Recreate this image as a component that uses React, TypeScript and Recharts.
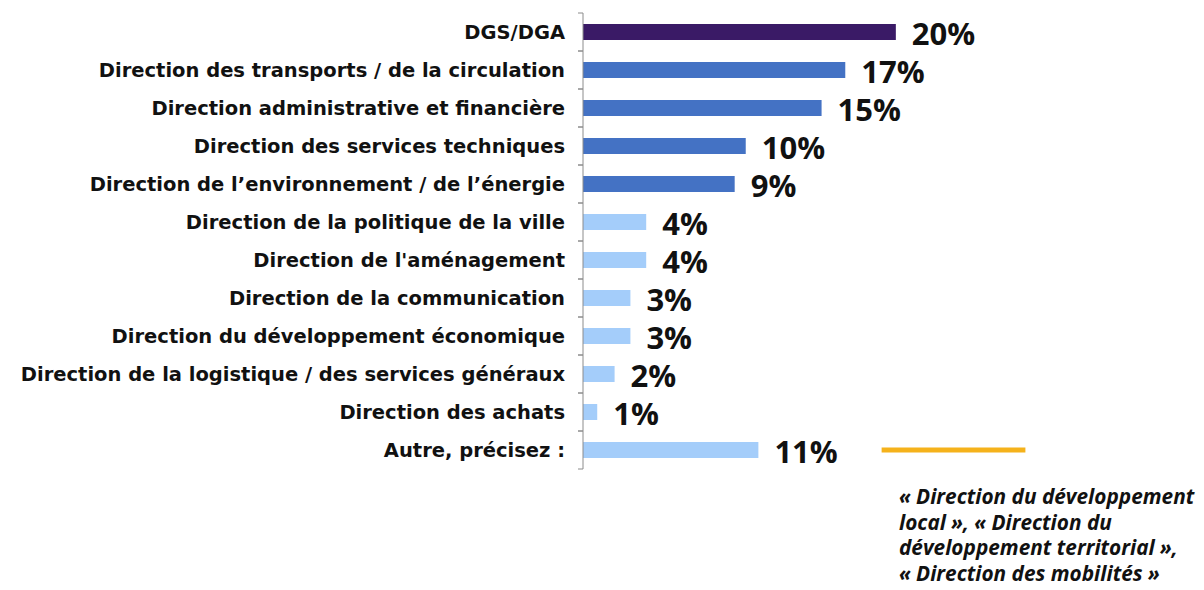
import React from 'react';
import { BarChart, Bar, XAxis, YAxis, Cell, LabelList, ReferenceLine } from 'recharts';

const categories = [
  'DGS/DGA',
  'Direction des transports / de la circulation',
  'Direction administrative et financière',
  'Direction des services techniques',
  'Direction de l\u2019environnement / de l\u2019énergie',
  'Direction de la politique de la ville',
  "Direction de l'aménagement",
  'Direction de la communication',
  'Direction du développement économique',
  'Direction de la logistique / des services généraux',
  'Direction des achats',
  'Autre, précisez :',
];
const values = [19.8, 16.6, 15.1, 10.3, 9.6, 4.0, 4.0, 3.0, 3.0, 2.0, 0.9, 11.1];
const valueLabels = ['20%', '17%', '15%', '10%', '9%', '4%', '4%', '3%', '3%', '2%', '1%', '11%'];
const annotationLines = [
  '\u00AB Direction du développement',
  'local \u00BB, \u00AB Direction du',
  'développement territorial \u00BB,',
  '\u00AB Direction des mobilités \u00BB',
];
const leaderFrom = 18.9;
const leaderTo = 28.0;

const DARK = '#3A1A66';
const MID = '#4472C4';
const LIGHT = '#A4CDFA';
const colorFor = (i: number) => (i === 0 ? DARK : i <= 4 ? MID : LIGHT);

const data = categories.map((name, i) => ({ name, value: values[i], label: valueLabels[i] }));

const W = 1204;
const H = 590;
const MARGIN = { top: 13, right: 147, bottom: 121, left: 0 };
const PLOT_H = H - MARGIN.top - MARGIN.bottom;
const HALF = PLOT_H / categories.length / 2;
const AXIS_COLOR = '#8C8C8C';
const FONT = '"Open Sans", sans-serif';
const CAT_FONT = '"DejaVu Sans", sans-serif';

const CatTick = (props: any) => {
  const { x, y, payload } = props;
  return (
    <g>
      <line x1={x - 5} x2={x} y1={y - HALF} y2={y - HALF} stroke={AXIS_COLOR} strokeWidth={1} />
      <line x1={x - 5} x2={x} y1={y + HALF} y2={y + HALF} stroke={AXIS_COLOR} strokeWidth={1} />
      <text
        x={x - 18}
        y={y}
        textAnchor="end"
        dominantBaseline="central"
        fontFamily={CAT_FONT}
        fontWeight={700}
        fontSize={19.5}
        fill="#111"
      >
        {payload.value}
      </text>
    </g>
  );
};

const ValueLabel = (props: any) => {
  const { x, y, width, height, value } = props;
  return (
    <text
      x={x + width + 16}
      y={y + height / 2 + 1}
      dominantBaseline="central"
      fontFamily={FONT}
      fontWeight={700}
      fontSize={31}
      fill="#111"
    >
      {value}
    </text>
  );
};

export default function App() {
  return (
    <div style={{ position: 'absolute', left: 0, top: 0, width: W, height: H, background: '#fff' }}>
      <BarChart width={W} height={H} data={data} layout="vertical" margin={MARGIN}>
        <XAxis type="number" domain={[0, 30]} hide />
        <YAxis
          type="category"
          dataKey="name"
          width={583}
          interval={0}
          axisLine={{ stroke: AXIS_COLOR }}
          tickLine={false}
          tickSize={0}
          tickMargin={0}
          tick={<CatTick />}
        />
        <Bar dataKey="value" barSize={16} isAnimationActive={false}>
          {data.map((d, i) => (
            <Cell key={d.name} fill={colorFor(i)} />
          ))}
          <LabelList dataKey="label" content={<ValueLabel />} />
        </Bar>
        <ReferenceLine
          segment={[
            { x: leaderFrom, y: categories[categories.length - 1] },
            { x: leaderTo, y: categories[categories.length - 1] },
          ]}
          stroke="#F5B21B"
          strokeWidth={5}
          ifOverflow="visible"
        />
      </BarChart>
      <div
        style={{
          position: 'absolute',
          left: 899,
          top: 484,
          fontFamily: FONT,
          fontStyle: 'italic',
          fontWeight: 700,
          fontSize: 20.8,
          lineHeight: '25.7px',
          color: '#111',
          whiteSpace: 'nowrap',
        }}
      >
        {annotationLines.map((l) => (
          <div key={l}>{l}</div>
        ))}
      </div>
    </div>
  );
}
